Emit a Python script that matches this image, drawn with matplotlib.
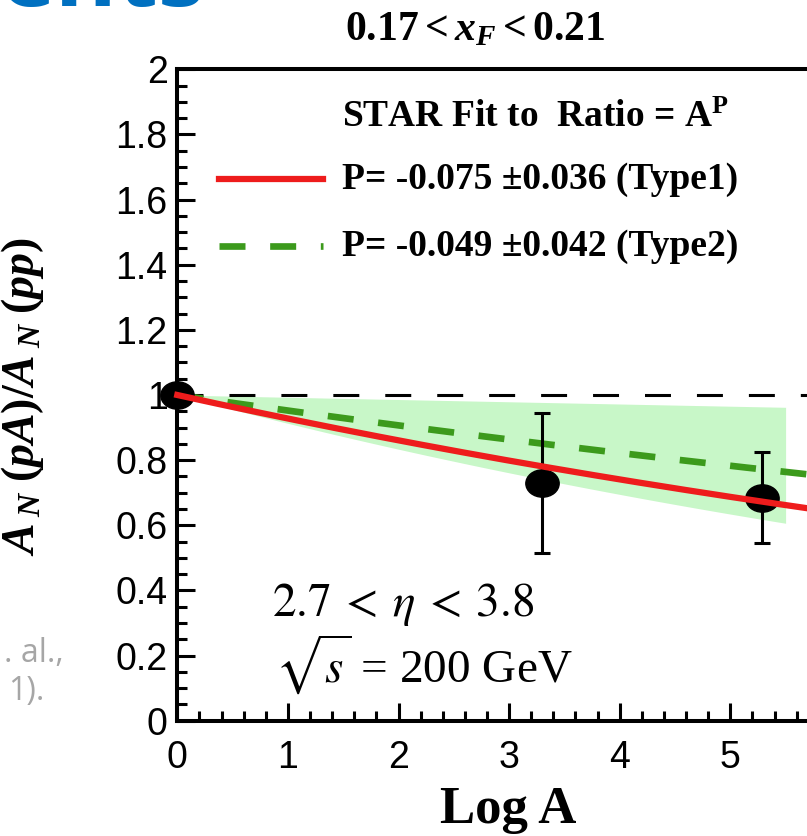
import numpy as np
import matplotlib
matplotlib.use("Agg")
import matplotlib.pyplot as plt
from matplotlib.path import Path

# mathtext in bold Times-like serif (ROOT style labels)
plt.rcParams['mathtext.fontset'] = 'custom'
plt.rcParams['mathtext.rm'] = 'Liberation Serif:bold'
plt.rcParams['mathtext.it'] = 'Liberation Serif:bold:italic'
plt.rcParams['mathtext.bf'] = 'Liberation Serif:bold'

# measured ratios: p+p, p+Al, p+Au
log_a = [0.0, np.log(27), np.log(197)]
ratio = [1.0, 0.73, 0.685]
ratio_err = [0.0, 0.215, 0.14]

# power-law fits, Ratio = A^P
p_type1, p_type1_err = -0.075, 0.036
p_type2, p_type2_err = -0.049, 0.042
band_xmax = 5.5

x_ticks = [0, 1, 2, 3, 4, 5]
y_ticks = [0, 0.2, 0.4, 0.6, 0.8, 1.0, 1.2, 1.4, 1.6, 1.8, 2.0]
y_ticklabels = ['0', '0.2', '0.4', '0.6', '0.8', '1', '1.2', '1.4', '1.6', '1.8', '2']
x_ticklabels = ['0', '1', '2', '3', '4', '5']

W, H = 807, 836
fig = plt.figure(figsize=(W / 100, H / 100), dpi=100)
ax = fig.add_axes([177.3 / W, 1 - 720.7 / H, 663.6 / W, 651.4 / H])
ax.set_xlim(0, 6)
ax.set_ylim(0, 2)

xs = np.linspace(0, 6, 300)
xb = np.linspace(0, band_xmax, 200)

ax.fill_between(xb, np.exp((p_type2 - p_type2_err) * xb), np.exp((p_type2 + p_type2_err) * xb),
                color='#c8f7c8', lw=0, zorder=1)
ax.axhline(1.0, color='black', lw=2.2, dashes=(8.5, 8.5), zorder=2)
ax.plot(xs, np.exp(p_type2 * xs), color='#3c9a1c', lw=4.8, dashes=(3.9, 3.7), zorder=3)

# elliptical data markers
circ = Path.unit_circle()
ell = Path(circ.vertices * np.array([1.0, 0.82]), circ.codes)
ax.errorbar(log_a, ratio, yerr=ratio_err, fmt='none', ecolor='black', elinewidth=2.2,
            capsize=6, capthick=2.2, zorder=4)
ax.plot(log_a, ratio, ls='none', marker=ell, ms=24, color='black', clip_on=False, zorder=5)
ax.plot(xs, np.exp(p_type1 * xs), color='#ee1c1c', lw=4.5, zorder=6, clip_on=False)

# axes frame, ticks inside
for s in ax.spines.values():
    s.set_linewidth(2.9)
ax.set_xticks(x_ticks)
ax.set_xticklabels(x_ticklabels)
ax.set_yticks(y_ticks)
ax.set_yticklabels(y_ticklabels)
ax.set_xticks(np.arange(0, 6.01, 0.2), minor=True)
ax.set_yticks(np.arange(0, 2.01, 0.05), minor=True)
ax.tick_params(which='both', direction='in', top=False, right=False, width=2.2)
ax.tick_params(which='major', length=13)
ax.tick_params(which='minor', length=7)
ax.tick_params(axis='y', pad=7)
ax.tick_params(axis='x', pad=14)
for lab in ax.get_xticklabels() + ax.get_yticklabels():
    lab.set_fontfamily('Liberation Sans')
    lab.set_fontsize(27)

ax.set_xlabel('Log A', fontsize=38, fontfamily='Liberation Serif', fontweight='bold')
ax.xaxis.set_label_coords(508 / W, 1 - 786 / H, transform=fig.transFigure)
ax.set_ylabel(r'$A_{\;N}\;(pA)/A_{\;N}\;(pp)$', fontsize=33)
ax.yaxis.set_label_coords(46 / W, 1 - 397 / H, transform=fig.transFigure)

fig.text(475 / W, 1 - 40 / H, r'$0.17{<}x_F{<}0.21$', fontsize=30, ha='center', va='baseline')

# fit legend, drawn by hand
ax.text(342 / W, 1 - 127 / H, r'STAR Fit to  Ratio = A$^{\rm P}$', transform=fig.transFigure,
        fontsize=27, fontfamily='Liberation Serif', fontweight='bold', va='baseline')
fig.add_artist(plt.Line2D([219 / W, 323 / W], [1 - 179 / H] * 2, color='#ee1c1c', lw=4.5))
ax.text(342 / W, 1 - 189 / H, 'P= -0.075 \u00b10.036 (Type1)', transform=fig.transFigure,
        fontsize=27, fontfamily='Liberation Serif', fontweight='bold', va='baseline')
fig.add_artist(plt.Line2D([219 / W, 323 / W], [1 - 246 / H] * 2, color='#3c9a1c', lw=4.8,
                          dashes=(3.9, 3.7)))
ax.text(342 / W, 1 - 256 / H, 'P= -0.049 \u00b10.042 (Type2)', transform=fig.transFigure,
        fontsize=27, fontfamily='Liberation Serif', fontweight='bold', va='baseline')

# kinematic range
ax.text(272 / W, 1 - 605 / H, r'$2.7\:<\:\eta\:<\:3.8$', transform=fig.transFigure, fontsize=34,
        math_fontfamily='stix', va='center')
ax.text(275 / W, 1 - 665 / H, r'$\sqrt{s}$ = 200 GeV', transform=fig.transFigure, fontsize=34,
        fontfamily='Liberation Serif', math_fontfamily='stix', va='center')

# slide text around the plot
fig.text(64 / W, 1 - 662 / H, '. al.,', fontsize=23, color='#a6a6a6', fontfamily='Open Sans',
         ha='right', va='baseline')
fig.text(44 / W, 1 - 700 / H, '1).', fontsize=23, color='#a6a6a6', fontfamily='Open Sans',
         ha='right', va='baseline')
fig.text(0 / W, 1 - 6 / H, 'ents', fontsize=68, color='#0070c0', fontfamily='Open Sans',
         fontweight='bold', ha='left', va='baseline')

fig.savefig('out.png', dpi=100)
